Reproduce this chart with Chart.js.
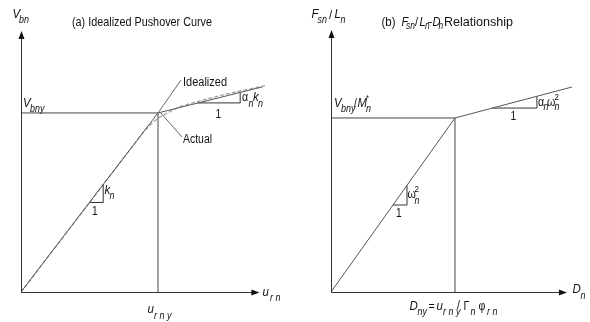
<!DOCTYPE html>
<html><head><meta charset="utf-8">
<script src="https://cdn.jsdelivr.net/npm/chart.js@4.4.0/dist/chart.umd.min.js"></script>
<style>
html,body{margin:0;padding:0;background:#fff;width:590px;height:322px;overflow:hidden}
canvas{position:absolute;top:0}
</style></head><body>
<canvas id="ca" width="300" height="322" style="left:0"></canvas>
<canvas id="cb" width="290" height="322" style="left:300px"></canvas>
<script>
// ---------- Panel (a): idealized pushover curve (u_rny = 1, V_bny = 1) ----------
const A_IDEAL_X  = [0, 1, 1.76];
const A_IDEAL_Y  = [0, 1, 1.145];
const A_ACTUAL_X = [0, 0.9, 0.96, 1.0, 1.06, 1.15, 1.3, 1.5, 1.78];
const A_ACTUAL_Y = [0, 0.9, 0.945, 0.97, 0.997, 1.033, 1.066, 1.106, 1.152];
const A_YIELD    = [1, 1];
const A_KTRI_X   = [0.5, 0.6, 0.6];
const A_KTRI_Y   = [0.5, 0.5, 0.6];
const A_ATRI_X   = [1.29, 1.6, 1.6];
const A_ATRI_Y   = [1.056, 1.056, 1.115];
const A_LEAD_I_X = [1.0, 1.168];
const A_LEAD_I_Y = [1.0, 1.184];
const A_LEAD_A_X = [1.02, 1.175];
const A_LEAD_A_Y = [1.0, 0.866];
const A_AXIS     = [1.74, 1.458];
const A_RANGE    = [1.781, 1.480];

// ---------- Panel (b): Fsn/Ln - Dn relationship (D_ny = 1, V_bny/M_n* = 1) ----------
const B_IDEAL_X  = [0, 1, 1.944];
const B_IDEAL_Y  = [0, 1, 1.178];
const B_YIELD    = [1, 1];
const B_WTRI_X   = [0.5, 0.613, 0.613];
const B_WTRI_Y   = [0.5, 0.5, 0.613];
const B_ATRI_X   = [1.30, 1.661, 1.661];
const B_ATRI_Y   = [1.057, 1.057, 1.125];
const B_AXIS     = [1.903, 1.506];
const B_RANGE    = [1.944, 1.517];

const pts = (xs, ys) => xs.map((x, i) => ({x, y: ys[i]}));
const LINE = '#555';
const FONT = '"Liberation Sans", Arial, sans-serif';
const MS = 13.5;   // main symbol size
const SS = 10.5;   // subscript size

function line(data, color, extra) {
  return Object.assign({data, showLine: true, pointRadius: 0, borderColor: color,
    borderWidth: 1, fill: false, tension: 0, order: 1}, extra || {});
}

function txt(ctx, s, x, y, size, italic, sx) {
  ctx.save();
  ctx.font = (italic ? 'italic ' : '') + size + 'px ' + FONT;
  ctx.fillStyle = '#111';
  ctx.textBaseline = 'alphabetic';
  ctx.translate(x, y);
  ctx.scale(sx || 0.85, 1);
  ctx.fillText(s, 0, 0);
  ctx.restore();
}
function fit(ctx, s, x, y, size, w) {
  ctx.save();
  ctx.font = size + 'px ' + FONT;
  const m = ctx.measureText(s).width;
  ctx.restore();
  txt(ctx, s, x, y, size, false, w / m);
}

function axes(chart, ax) {
  const ctx = chart.ctx, xs = chart.scales.x, ys = chart.scales.y;
  const x0 = xs.getPixelForValue(0), y0 = ys.getPixelForValue(0);
  const x1 = xs.getPixelForValue(ax[0]), y1 = ys.getPixelForValue(ax[1]);
  ctx.save();
  ctx.strokeStyle = '#333'; ctx.fillStyle = '#111'; ctx.lineWidth = 1;
  ctx.beginPath();
  ctx.moveTo(x0 + 0.5, y0 + 0.5); ctx.lineTo(x0 + 0.5, y1 + 6);
  ctx.moveTo(x0, y0 + 0.5); ctx.lineTo(x1 - 6, y0 + 0.5);
  ctx.stroke();
  ctx.beginPath();
  ctx.moveTo(x0 + 0.5, y1); ctx.lineTo(x0 - 2.5, y1 + 8); ctx.lineTo(x0 + 3.5, y1 + 8); ctx.closePath();
  ctx.fill();
  ctx.beginPath();
  ctx.moveTo(x1, y0 + 0.5); ctx.lineTo(x1 - 8, y0 - 2.5); ctx.lineTo(x1 - 8, y0 + 3.5); ctx.closePath();
  ctx.fill();
  ctx.restore();
}

const common = (range, pad) => ({
  responsive: false, animation: false, devicePixelRatio: 1,
  layout: {padding: pad},
  plugins: {legend: {display: false}, tooltip: {enabled: false}, title: {display: false}},
  scales: {
    x: {type: 'linear', min: 0, max: range[0], display: false},
    y: {type: 'linear', min: 0, max: range[1], display: false}
  }
});

// ---------- Chart (a) ----------
new Chart(document.getElementById('ca'), {
  type: 'scatter',
  data: {datasets: [
    line(pts(A_IDEAL_X, A_IDEAL_Y), LINE, {order: 0}),
    line(pts(A_ACTUAL_X, A_ACTUAL_Y), '#a0a0a0', {borderDash: [4, 2], borderWidth: 1.3, order: 2}),
    line([{x: 0, y: A_YIELD[1]}, {x: A_YIELD[0], y: A_YIELD[1]}], '#444'),
    line([{x: A_YIELD[0], y: 0}, {x: A_YIELD[0], y: A_YIELD[1]}], '#444'),
    line(pts(A_KTRI_X, A_KTRI_Y), '#333'),
    line(pts(A_ATRI_X, A_ATRI_Y), '#333'),
    line(pts(A_LEAD_I_X, A_LEAD_I_Y), '#666'),
    line(pts(A_LEAD_A_X, A_LEAD_A_Y), '#666')
  ]},
  options: common(A_RANGE, {left: 21, right: 35, top: 27, bottom: 30}),
  plugins: [{id: 'decoA', afterDraw(chart) {
    const c = chart.ctx;
    axes(chart, A_AXIS);
    txt(c, 'V', 12.5, 18, MS, true);
    txt(c, 'bn', 19, 22.5, SS, true);
    fit(c, '(a) Idealized Pushover Curve', 72, 26, 13, 140);
    txt(c, 'V', 23, 107, MS, true);
    txt(c, 'bny', 30, 111.5, SS, true);
    fit(c, 'Idealized', 183, 86, 12.5, 44);
    fit(c, 'Actual', 183, 143, 12.5, 29);
    txt(c, '\u03b1', 242, 101, 12.5, false);
    txt(c, 'n', 248.5, 106.5, SS, true);
    txt(c, 'k', 253, 101, MS, true);
    txt(c, 'n', 258, 106.5, SS, true);
    txt(c, '1', 215.5, 117.5, 12, false);
    txt(c, 'k', 104.5, 193.5, MS, true);
    txt(c, 'n', 109.5, 198.5, SS, true);
    txt(c, '1', 92, 215, 12, false);
    txt(c, 'u', 262.5, 296, MS, true);
    txt(c, 'r n', 270, 301, SS, true);
    txt(c, 'u', 147.5, 313, MS, true);
    txt(c, 'r n y', 154, 318.5, SS, true);
  }}]
});

// ---------- Chart (b) ----------
new Chart(document.getElementById('cb'), {
  type: 'scatter',
  data: {datasets: [
    line(pts(B_IDEAL_X, B_IDEAL_Y), LINE, {order: 0}),
    line([{x: 0, y: B_YIELD[1]}, {x: B_YIELD[0], y: B_YIELD[1]}], '#444'),
    line([{x: B_YIELD[0], y: 0}, {x: B_YIELD[0], y: B_YIELD[1]}], '#444'),
    line(pts(B_WTRI_X, B_WTRI_Y), '#333'),
    line(pts(B_ATRI_X, B_ATRI_Y), '#333')
  ]},
  options: common(B_RANGE, {left: 31, right: 18, top: 28, bottom: 30}),
  plugins: [{id: 'decoB', afterDraw(chart) {
    const c = chart.ctx;
    axes(chart, B_AXIS);
    c.save();
    c.translate(-300, 0);   // labels below are given in page coordinates
    txt(c, 'F', 311.5, 18, MS, true);
    txt(c, 'sn', 317.5, 22.5, SS, true);
    txt(c, '/', 329, 19, MS, false);
    txt(c, 'L', 334.5, 18, MS, true);
    txt(c, 'n', 340.5, 22.5, SS, true);
    // title
    txt(c, '(b)', 381.5, 26, 13, false, 0.88);
    txt(c, 'F', 401.5, 26, 13, true, 0.85);
    txt(c, 'sn', 406, 29, SS, true, 0.8);
    txt(c, '/', 415, 26, 13, false, 0.85);
    txt(c, 'L', 419.5, 26, 13, true, 0.85);
    txt(c, 'n', 425, 29, SS, true, 0.8);
    txt(c, '\u2013', 428, 26, 13, false, 0.55);
    txt(c, 'D', 432.5, 26, 13, true, 0.85);
    txt(c, 'n', 438.5, 29, SS, true, 0.8);
    fit(c, 'Relationship', 444, 26, 13, 69);
    // yield label
    txt(c, 'V', 334, 107, MS, true);
    txt(c, 'bny', 341, 111.5, SS, true);
    txt(c, '/', 354, 107, 12.5, false);
    txt(c, 'M', 357.5, 107, MS, true);
    txt(c, 'n', 366, 111.5, SS, true);
    txt(c, '*', 366, 101, 9, false);
    // slopes
    txt(c, '\u03b1', 538, 105.5, 12.5, false);
    txt(c, 'n', 543.5, 109.5, SS, true);
    txt(c, '\u03c9', 547, 105.5, 12.5, false);
    txt(c, '2', 554.5, 100, 9.5, false);
    txt(c, 'n', 554.5, 109.5, SS, true);
    txt(c, '1', 510.5, 120, 12, false);
    txt(c, '\u03c9', 407.5, 198, 12.5, false);
    txt(c, '2', 414.5, 192, 9.5, false);
    txt(c, 'n', 414.5, 203.5, SS, true);
    txt(c, '1', 396, 217, 12, false);
    // x labels
    txt(c, 'D', 572.5, 293, MS, true);
    txt(c, 'n', 580.5, 298.5, SS, true);
    txt(c, 'D', 409.5, 310, MS, true);
    txt(c, 'ny', 417.5, 314.5, SS, true);
    txt(c, '=', 428.5, 310, 12.5, false);
    txt(c, 'u', 436.5, 310, MS, true);
    txt(c, 'r n y', 443, 314.5, SS, true);
    txt(c, '/', 457, 309, 12.5, false);
    txt(c, '\u0393', 463.5, 310, 12.5, false);
    txt(c, 'n', 470.5, 314.5, SS, true);
    txt(c, '\u03c6', 478.5, 310, 12.5, false);
    txt(c, 'r n', 487, 314.5, SS, true);
    c.restore();
  }}]
});
</script>
</body></html>
